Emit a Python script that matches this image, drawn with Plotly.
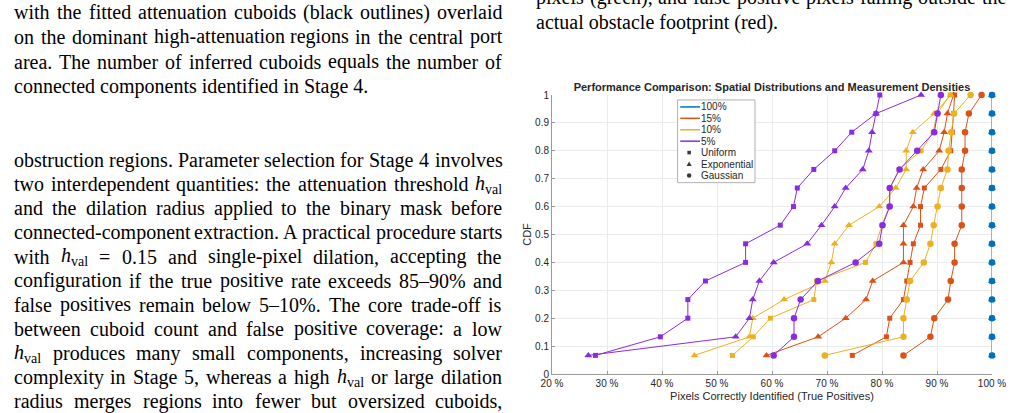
import plotly.graph_objects as go

# ---------------- data ----------------
cdf_levels = [0.0667, 0.1333, 0.2, 0.2667, 0.3333, 0.4, 0.4667, 0.5333,
              0.6, 0.6667, 0.7333, 0.8, 0.8667, 0.9333, 1.0]

tp_100_uniform = [100, 100, 100, 100, 100, 100, 100, 100, 100, 100, 100, 100, 100, 100, 100]
tp_100_exponential = [100, 100, 100, 100, 100, 100, 100, 100, 100, 100, 100, 100, 100, 100, 100]
tp_100_gaussian = [100, 100, 100, 100, 100, 100, 100, 100, 100, 100, 100, 100, 100, 100, 100]

tp_15_uniform = [74.6, 80.8, 81.4, 83.9, 84.5, 85.1, 85.7, 87.0, 87.0, 87.7, 90.7, 92.5, 92.8, 93.0, 93.2]
tp_15_exponential = [59.0, 68.4, 73.4, 77.1, 78.3, 83.9, 83.9, 83.9, 85.7, 86.3, 87.5, 90.4, 91.3, 91.9, 93.0]
tp_15_gaussian = [83.9, 88.8, 89.5, 92.0, 92.5, 93.2, 93.2, 94.5, 94.5, 94.5, 94.5, 95.1, 95.1, 95.8, 98.1]

tp_10_uniform = [52.8, 56.6, 59.7, 67.6, 68.1, 77.0, 78.9, 80.0, 81.3, 81.5, 83.1, 87.1, 89.3, 90.0, 92.4]
tp_10_exponential = [45.9, 55.9, 56.5, 62.2, 69.6, 70.8, 71.4, 74.0, 79.5, 82.5, 84.4, 84.4, 85.6, 89.5, 92.5]
tp_10_gaussian = [69.6, 83.9, 83.9, 84.5, 85.1, 87.6, 88.8, 89.4, 90.1, 90.7, 91.9, 92.1, 92.6, 93.1, 96.1]

tp_5_uniform = [27.9, 39.7, 44.7, 44.7, 47.9, 55.2, 55.2, 61.5, 63.9, 64.6, 67.6, 71.4, 74.5, 78.9, 79.6]
tp_5_exponential = [26.6, 53.4, 55.9, 56.5, 57.7, 60.3, 66.4, 69.0, 71.4, 73.4, 76.5, 77.6, 78.2, 78.9, 87.1]
tp_5_gaussian = [60.3, 64.0, 64.0, 65.2, 68.35, 75.2, 79.5, 80.1, 81.4, 81.4, 83.2, 86.4, 89.5, 90.1, 90.7]

density_labels = ["100%", "15%", "10%", "5%"]
density_colors = ["#0072BD", "#D95319", "#EDB120", "#8A2BE2"]
distribution_labels = ["Uniform", "Exponential", "Gaussian"]
distribution_symbols = ["square", "triangle-up", "circle"]
distribution_sizes = [5, 7, 6.5]

x_tick_values = [20, 30, 40, 50, 60, 70, 80, 90, 100]
x_tick_labels = ["20 %", "30 %", "40 %", "50 %", "60 %", "70 %", "80 %", "90 %", "100 %"]
y_tick_values = [0, 0.1, 0.2, 0.3, 0.4, 0.5, 0.6, 0.7, 0.8, 0.9, 1.0]
y_tick_labels = ["0", "0.1", "0.2", "0.3", "0.4", "0.5", "0.6", "0.7", "0.8", "0.9", "1"]

chart_title = "Performance Comparison: Spatial Distributions and Measurement Densities"
x_title = "Pixels Correctly Identified (True Positives)"
y_title = "CDF"

series = {
    "100%": [tp_100_uniform, tp_100_exponential, tp_100_gaussian],
    "15%": [tp_15_uniform, tp_15_exponential, tp_15_gaussian],
    "10%": [tp_10_uniform, tp_10_exponential, tp_10_gaussian],
    "5%": [tp_5_uniform, tp_5_exponential, tp_5_gaussian],
}

# surrounding page text
left_par1 = [
    "with the fitted attenuation cuboids (black outlines) overlaid",
    "on the dominant high-attenuation regions in the central port",
    "area. The number of inferred cuboids equals the number of",
    "connected components identified in Stage 4.",
]
left_par2 = [
    "obstruction regions. Parameter selection for Stage 4 involves",
    "two interdependent quantities: the attenuation threshold HVAL",
    "and the dilation radius applied to the binary mask before",
    "connected-component extraction. A practical procedure starts",
    "with HVAL = 0.15 and single-pixel dilation, accepting the",
    "configuration if the true positive rate exceeds 85\u201390% and",
    "false positives remain below 5\u201310%. The core trade-off is",
    "between cuboid count and false positive coverage: a low",
    "HVAL produces many small components, increasing solver",
    "complexity in Stage 5, whereas a high HVAL or large dilation",
    "radius merges regions into fewer but oversized cuboids,",
]
right_par = [
    "pixels (green), and false positive pixels falling outside the",
    "actual obstacle footprint (red).",
]

# ---------------- geometry ----------------
W, H = 1018, 413
ML, MR, MT, MB = 552, 21, 95, 37
PW = W - ML - MR
PH = H - MT - MB


def px_x(X):
    return (X - ML) / PW


def px_y(Y):
    return (H - MB - Y) / PH


fig = go.Figure()

for dens, color in zip(density_labels, density_colors):
    for vals, dist, sym, size in zip(series[dens], distribution_labels,
                                     distribution_symbols, distribution_sizes):
        line_color = "#8dbbe0" if dens == "100%" else color
        line_width = 2 if dens == "100%" else 1
        fig.add_trace(go.Scatter(
            x=vals, y=cdf_levels, mode="lines+markers",
            line=dict(color=line_color, width=line_width),
            marker=dict(symbol=sym, size=size, color=color, line=dict(width=0)),
            name=f"{dens} {dist}", showlegend=False, cliponaxis=False,
        ))

axis_font = dict(family="Liberation Sans", size=10, color="#262626")
fig.update_xaxes(range=[20, 100], tickvals=x_tick_values, ticktext=x_tick_labels,
                 showgrid=True, gridcolor="#ebebeb", gridwidth=1, zeroline=False,
                 showline=True, linecolor="#9a9a9a", linewidth=1,
                 ticks="inside", ticklen=3, tickcolor="#9a9a9a",
                 tickfont=axis_font,
                 title=dict(text=x_title, font=dict(family="Liberation Sans", size=11, color="#262626"),
                            standoff=4))
fig.update_yaxes(range=[0, 1], tickvals=y_tick_values, ticktext=y_tick_labels,
                 showgrid=True, gridcolor="#ebebeb", gridwidth=1, zeroline=False,
                 showline=True, linecolor="#9a9a9a", linewidth=1,
                 ticks="inside", ticklen=3, tickcolor="#9a9a9a",
                 tickfont=axis_font,
                 title=dict(text=y_title, font=dict(family="Liberation Sans", size=11, color="#262626"),
                            standoff=1))

# ---------------- legend (drawn as a box) ----------------
shapes = []
annotations = []
LX0, LX1, LY0, LY1 = 679, 757.3, 100, 183.3
shapes.append(dict(type="rect", xref="paper", yref="paper",
                   x0=px_x(LX0), x1=px_x(LX1), y0=px_y(LY1), y1=px_y(LY0),
                   line=dict(color="#b0b0b0", width=1), fillcolor="white", layer="above"))
row_y = [107, 118.5, 130, 141.5, 153, 164.5, 176]
for i, (lab, col) in enumerate(zip(density_labels, density_colors)):
    shapes.append(dict(type="line", xref="paper", yref="paper",
                       x0=px_x(681.7), x1=px_x(701.7), y0=px_y(row_y[i]), y1=px_y(row_y[i]),
                       line=dict(color=col, width=1.5), layer="above"))
    annotations.append(dict(text=lab, x=px_x(701.5), y=px_y(row_y[i]), xref="paper", yref="paper",
                            xanchor="left", yanchor="middle", showarrow=False, borderpad=0,
                            font=dict(family="Liberation Sans", size=10, color="#262626")))
mk = "#3a3a3a"
mx = 690.7
for j, lab in enumerate(distribution_labels):
    yy = row_y[4 + j]
    if distribution_symbols[j] == "square":
        shapes.append(dict(type="rect", xref="paper", yref="paper",
                           x0=px_x(mx - 1.8), x1=px_x(mx + 1.8), y0=px_y(yy + 1.8), y1=px_y(yy - 1.8),
                           line=dict(width=0), fillcolor=mk, layer="above"))
    elif distribution_symbols[j] == "triangle-up":
        path = "M {} {} L {} {} L {} {} Z".format(px_x(mx - 2.6), px_y(yy + 2.0), px_x(mx + 2.6),
                                                  px_y(yy + 2.0), px_x(mx), px_y(yy - 2.6))
        shapes.append(dict(type="path", xref="paper", yref="paper", path=path,
                           line=dict(width=0), fillcolor=mk, layer="above"))
    else:
        shapes.append(dict(type="circle", xref="paper", yref="paper",
                           x0=px_x(mx - 2.3), x1=px_x(mx + 2.3), y0=px_y(yy + 2.3), y1=px_y(yy - 2.3),
                           line=dict(width=0), fillcolor=mk, layer="above"))
    annotations.append(dict(text=lab, x=px_x(701.5), y=px_y(yy), xref="paper", yref="paper",
                            xanchor="left", yanchor="middle", showarrow=False, borderpad=0,
                            font=dict(family="Liberation Sans", size=10, color="#262626")))

# ---------------- page text (justified word placement) ----------------
TW = {' ': 250, '!': 333, '(': 333, ')': 333, ',': 250, '-': 333, '.': 250, ':': 278,
      '%': 833, '=': 564, '\u2013': 500}
for c in "0123456789":
    TW[c] = 500
TW.update(dict(zip("ABCDEFGHIJKLMNOPQRSTUVWXYZ",
                   [722, 667, 667, 722, 611, 556, 722, 722, 333, 389, 722, 611, 889, 722, 722,
                    556, 722, 667, 556, 611, 722, 722, 944, 722, 722, 611])))
TW.update(dict(zip("abcdefghijklmnopqrstuvwxyz",
                   [444, 500, 444, 500, 444, 333, 500, 500, 278, 278, 500, 278, 778, 500, 500,
                    500, 500, 333, 389, 278, 500, 500, 722, 500, 500, 444])))
FS = 20
HVAL_HTML = "<i>h</i><sub>val</sub>"


def word_width(word):
    if word == "HVAL":
        return FS * (0.5 + 0.7 * 1.222)
    return FS * sum(TW.get(c, 500) for c in word) / 1000.0


def to_html(word):
    return word.replace("HVAL", HVAL_HTML)


def add_line(text, x_left, x_right, yc, justify):
    font = dict(family="Liberation Serif", size=FS, color="black")
    if not justify:
        annotations.append(dict(text=to_html(text), x=px_x(x_left), y=px_y(yc), xref="paper",
                                yref="paper", xanchor="left", yanchor="middle", showarrow=False,
                                borderpad=0, font=font))
        return
    words = text.split(" ")
    widths = [word_width(w) for w in words]
    gap = (x_right - x_left - sum(widths)) / (len(words) - 1)
    xc = x_left
    for w, ww in zip(words, widths):
        annotations.append(dict(text=to_html(w), x=px_x(xc), y=px_y(yc), xref="paper",
                                yref="paper", xanchor="left", yanchor="middle", showarrow=False,
                                borderpad=0, font=font))
        xc += ww + gap


par1_y = [11.5, 36.5, 61.5, 86]
for i, t in enumerate(left_par1):
    add_line(t, 7, 500, par1_y[i], i < len(left_par1) - 1)
for i, t in enumerate(left_par2):
    add_line(t, 7, 500, 160.5 + 24.3 * i, True)
add_line(right_par[0], 535, 1010, -3.5, True)
add_line(right_par[1], 535, 1010, 21.5, False)

fig.update_layout(
    width=W, height=H, autosize=False,
    margin=dict(l=ML, r=MR, t=MT, b=MB),
    paper_bgcolor="white", plot_bgcolor="white",
    title=dict(text="<b>" + chart_title + "</b>", x=0.5, xref="paper", xanchor="center",
               y=1 - 87.3 / H, yref="container", yanchor="middle",
               font=dict(family="Liberation Sans", size=11, color="#262626")),
    shapes=shapes, annotations=annotations,
    showlegend=False,
)

fig.write_html("out.html")
